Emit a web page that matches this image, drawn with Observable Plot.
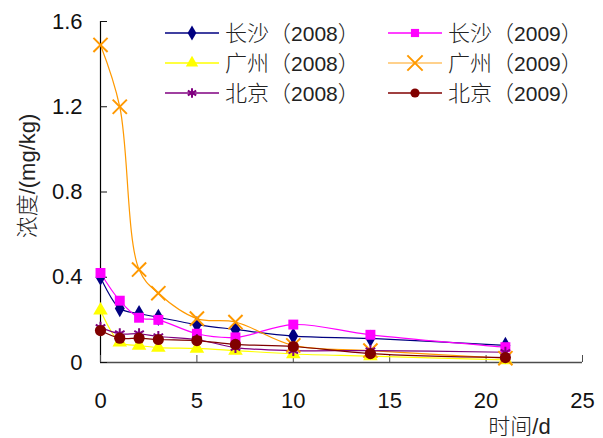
<!DOCTYPE html>
<html lang="zh-CN"><head><meta charset="utf-8">
<script src="https://cdn.jsdelivr.net/npm/d3@7"></script>
<script src="https://cdn.jsdelivr.net/npm/@observablehq/plot@0.6"></script>
<style>
body{margin:0;background:#fff}
#wrap{position:relative;width:603px;height:438px}
#wrap svg{position:absolute;left:0;top:0}
</style>
</head><body><div id="wrap"></div>
<script>
const days = [0, 1, 2, 3, 5, 7, 10, 14, 21];
const seriesNames = ["长沙（2008）", "长沙（2009）", "广州（2008）", "广州（2009）", "北京（2008）", "北京（2009）"];
const changsha2008 = [0.40, 0.253, 0.23, 0.212, 0.178, 0.155, 0.124, 0.113, 0.08];
const changsha2009 = [0.42, 0.29, 0.21, 0.20, 0.135, 0.118, 0.178, 0.13, 0.072];
const guangzhou2008 = [0.245, 0.095, 0.08, 0.07, 0.066, 0.056, 0.04, 0.03, 0.012];
const guangzhou2009 = [1.49, 1.20, 0.436, 0.325, 0.206, 0.19, 0.08, 0.056, 0.02];
const beijing2008 = [0.165, 0.135, 0.135, 0.122, 0.108, 0.07, 0.056, 0.056, 0.048];
const beijing2009 = [0.15, 0.114, 0.114, 0.108, 0.103, 0.085, 0.075, 0.042, 0.023];
const xTicks = [0, 5, 10, 15, 20, 25];
const yTicks = [0, 0.4, 0.8, 1.2, 1.6];
const xLabel = "时间/d";
const yLabel = "浓度/(mg/kg)";

const values = [changsha2008, changsha2009, guangzhou2008, guangzhou2009, beijing2008, beijing2009];
const colors = ["#000080", "#FF00FF", "#FFFF00", "#FF9900", "#800080", "#800000"];
const legendLineColors = ["#000080", "#FF00FF", "#FFFF00", "#FFC266", "#800080", "#800000"];
const symbols = ["diamond", "square", "triangle", "times", "asterisk", "circle"];
const filled = [true, true, true, false, false, true];
const radii = [5.2, 5.6, 5.4, 6.5, 5.2, 5.6];

const table = [];
seriesNames.forEach((s, i) => days.forEach((d, j) => table.push({series: s, day: d, value: values[i][j], idx: i})));

const FONT = "'Liberation Sans', Arial, 'Noto Sans CJK SC', sans-serif";

const marks = [
  Plot.ruleY([0], {stroke: "#4d4d4d", strokeWidth: 1.5}),
  Plot.ruleX([0], {stroke: "#000", strokeWidth: 1.2}),
  Plot.axisX({ticks: xTicks, tickSize: -7, tickPadding: 37, tickFormat: d => String(d), fontSize: 22, stroke: "#4d4d4d", label: null}),
  Plot.axisY({ticks: yTicks, tickSize: -7, tickPadding: 25, tickFormat: d => d === 0 ? "0" : d.toFixed(1), fontSize: 22, label: null}),
];
seriesNames.forEach((s, i) => {
  const rows = table.filter(r => r.idx === i);
  marks.push(Plot.line(rows, {x: "day", y: "value", stroke: colors[i], strokeWidth: 1.2, curve: "catmull-rom"}));
});
seriesNames.forEach((s, i) => {
  const rows = table.filter(r => r.idx === i);
  marks.push(Plot.dot(rows, {x: "day", y: "value", symbol: () => symbols[i], r: radii[i],
    fill: filled[i] ? colors[i] : "none", stroke: filled[i] ? "none" : colors[i], strokeWidth: 2}));
});
marks.push(Plot.text([yLabel], {frameAnchor: "left", textAnchor: "middle", lineAnchor: "middle", rotate: -90,
  dx: -73, dy: -16, fontSize: 22, fontWeight: 300, fill: "#222"}));
marks.push(Plot.text([xLabel], {frameAnchor: "bottom-right", textAnchor: "middle", lineAnchor: "middle",
  dx: -63, dy: 64, fontSize: 22, fontWeight: 300, fill: "#222"}));

const chart = Plot.plot({
  width: 603, height: 438,
  marginLeft: 100, marginRight: 21, marginTop: 21, marginBottom: 76,
  x: {domain: [0, 25]},
  y: {domain: [0, 1.6]},
  style: {fontFamily: FONT, color: "#111", background: "white", overflow: "visible"},
  marks
});
document.getElementById("wrap").appendChild(chart);

// Legend overlay
const leg = d3.select("#wrap").append("svg").attr("width", 603).attr("height", 438)
  .style("pointer-events", "none").style("font-family", FONT);
const symMap = {diamond: d3.symbolDiamond, square: d3.symbolSquare, triangle: d3.symbolTriangle,
  times: d3.symbolTimes, asterisk: d3.symbolAsterisk, circle: d3.symbolCircle};
seriesNames.forEach((s, i) => {
  const col = i % 2, row = Math.floor(i / 2);
  const x0 = col === 0 ? 165 : 388;
  const cy = 33 + row * 30;
  const g = leg.append("g");
  g.append("line").attr("x1", x0).attr("x2", x0 + 54).attr("y1", cy).attr("y2", cy)
    .attr("stroke", legendLineColors[i]).attr("stroke-width", 1.3);
  const r = symbols[i] === "times" ? 7 : 4.6;
  g.append("path").attr("transform", `translate(${x0 + 27},${cy})`)
    .attr("d", d3.symbol(symMap[symbols[i]], Math.PI * r * r)())
    .attr("fill", filled[i] ? colors[i] : "none")
    .attr("stroke", filled[i] ? "none" : colors[i]).attr("stroke-width", 2);
  const m = s.match(/^(.*)（(.*)）$/);
  const t = g.append("text").attr("x", x0 + 60).attr("y", cy).attr("dy", "0.36em")
    .attr("font-size", 21).attr("font-weight", 300).attr("fill", "#222");
  t.append("tspan").attr("font-size", 22).text(m[1]);
  const p1 = t.append("tspan").attr("font-size", 22).text("（");
  const yr = t.append("tspan").text(m[2]);
  const p2 = t.append("tspan").attr("font-size", 22).text("）");
  // full-width punctuation spacing: pad if the paren was rendered narrower than one em
  const w1 = p1.node().getComputedTextLength();
  if (w1 > 0 && w1 < 20) { p1.attr("dx", Math.max(0, 16 - w1)); yr.attr("dx", 2); }
  const w2 = p2.node().getComputedTextLength();
  if (w2 > 0 && w2 < 20) p2.attr("dx", 3);
});
</script>
</body></html>
